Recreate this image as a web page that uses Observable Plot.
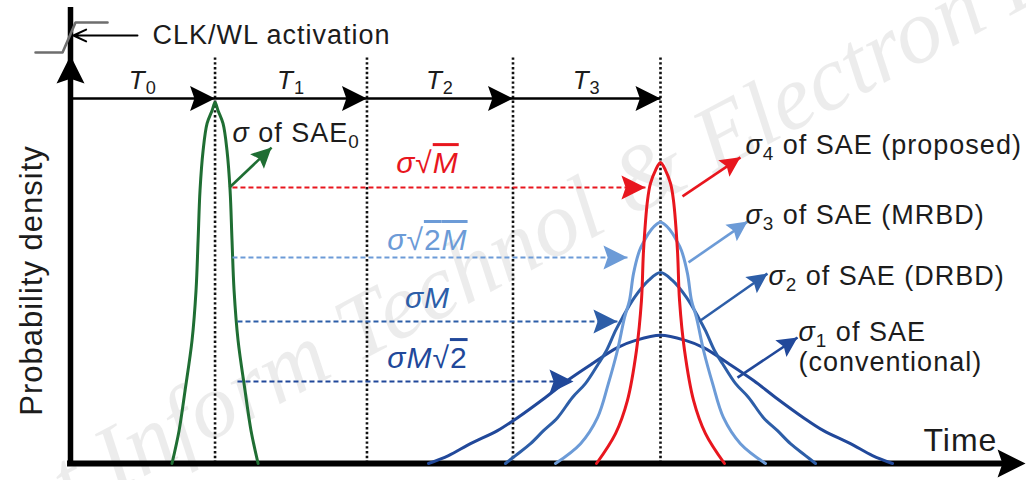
<!DOCTYPE html>
<html><head><meta charset="utf-8">
<script src="https://cdn.jsdelivr.net/npm/d3@7"></script>
<script src="https://cdn.jsdelivr.net/npm/@observablehq/plot@0.6"></script>
<style>
html,body{margin:0;padding:0;background:#fff;}
#chart svg{display:block;}
</style></head><body><div id="chart"></div>
<script>
// ---------- data (time units on x, probability density on y) ----------
const phaseBounds = [0, 0.98, 2.01, 3.0, 4.0];
const phaseLabels = ["*T*_0", "*T*_1", "*T*_2", "*T*_3"];
const phaseArrowLevel = 1.011;
const boundTop = 1.13;

// curve shapes: peak-to-base heights and matching half-widths
const sae0Center = 0.98;
const sae0H = [1.000, 0.978, 0.942, 0.867, 0.756, 0.618, 0.479, 0.341, 0.203, 0.091, 0];
const sae0W = [0, 0.020, 0.054, 0.081, 0.102, 0.115, 0.129, 0.156, 0.203, 0.244, 0.292];
const saeCenter = 4.0;
const sigma4H = [0.834, 0.812, 0.776, 0.729, 0.590, 0.452, 0.313, 0.175, 0.083, 0];
const sigma4W = [0, 0.034, 0.068, 0.088, 0.115, 0.129, 0.163, 0.224, 0.305, 0.434];
const sigma3H = [0.668, 0.645, 0.618, 0.590, 0.526, 0.452, 0.404, 0.313, 0.222, 0.127, 0.055, 0];
const sigma3W = [0, 0.068, 0.108, 0.142, 0.183, 0.210, 0.244, 0.292, 0.353, 0.427, 0.542, 0.712];
const sigma2H = [0.529, 0.507, 0.460, 0.404, 0.368, 0.313, 0.277, 0.222, 0.183, 0.127, 0.091, 0.055, 0.022, 0];
const sigma2W = [0, 0.081, 0.176, 0.258, 0.305, 0.366, 0.420, 0.508, 0.597, 0.698, 0.793, 0.881, 0.983, 1.051];
const sigma1H = [0.355, 0.341, 0.321, 0.277, 0.230, 0.183, 0.127, 0.091, 0.055, 0.022, 0];
const sigma1W = [0, 0.169, 0.292, 0.461, 0.631, 0.780, 0.969, 1.105, 1.288, 1.437, 1.573];

const green = "#1f6e33", red = "#e8161e", lightBlue = "#6c9bd7", midBlue = "#2d5ea8", darkBlue = "#21489a";

// dashed transfer arrows
const transferY = [0.7645, 0.5706, 0.3934, 0.2271];
const transferX1 = [1.098, 1.098, 1.132, 1.132];
const transferX2 = [3.898, 3.776, 3.708, 3.410];
const transferColors = [red, lightBlue, midBlue, darkBlue];
const transferLabels = ["*σ*√~*M*~", "*σ*√~2*M*~", "*σM*", "*σM*√~2~"];
const transferLabelX = 2.42;
const transferLabelY = [0.831, 0.618, 0.457, 0.291];

// pointer arrows to curve labels
const pointerX1 = [1.078, 4.149, 4.190, 4.271, 4.522];
const pointerY1 = [0.7645, 0.740, 0.557, 0.396, 0.238];
const pointerX2 = [1.363, 4.542, 4.590, 4.725, 4.929];
const pointerY2 = [0.875, 0.848, 0.670, 0.526, 0.349];
const pointerColors = [green, red, lightBlue, midBlue, darkBlue];

const curveLabels = ["*σ* of SAE_0", "*σ*_4 of SAE (proposed)", "*σ*_3 of SAE (MRBD)", "*σ*_2 of SAE (DRBD)", "*σ*_1 of SAE", "(conventional)"];
const curveLabelX = [1.098, 4.576, 4.576, 4.732, 4.936, 4.936];
const curveLabelY = [0.914, 0.881, 0.687, 0.518, 0.362, 0.280];

// CLK/WL activation marker
const clkT = [-0.237, -0.054, 0.034, 0.251];
const clkD = [1.1385, 1.1385, 1.2216, 1.2216];
const clkArrow = {x1: 0.454, x2: 0.020, y: 1.1856};
const clkText = "CLK/WL activation";
const watermark = "Front Inform Technol & Electron Eng";

const axisTop = 1.263, yArrowTip = 1.130, xArrowTip = 6.475;
const xDomain = [-0.4746, 6.4814], yDomain = [0, 1.2825];
const W = 1026, H = 480, MB = 17;

// ---------- build tables ----------
function curveRows(name, center, hs, ws) {
  const rows = [];
  for (let i = hs.length - 1; i >= 1; --i) rows.push({name, t: center - ws[i], d: hs[i]});
  rows.push({name, t: center, d: hs[0]});
  for (let i = 1; i < hs.length; ++i) rows.push({name, t: center + ws[i], d: hs[i]});
  return rows;
}
const curves = [
  ...curveRows("SAE0", sae0Center, sae0H, sae0W),
  ...curveRows("s1", saeCenter, sigma1H, sigma1W),
  ...curveRows("s2", saeCenter, sigma2H, sigma2W),
  ...curveRows("s3", saeCenter, sigma3H, sigma3W),
  ...curveRows("s4", saeCenter, sigma4H, sigma4W)
];
const curveColorMap = {SAE0: green, s1: darkBlue, s2: midBlue, s3: lightBlue, s4: red};

const kx = W / (xDomain[1] - xDomain[0]);
const ky = (H - MB) / (yDomain[1] - yDomain[0]);
const angleOf = (x1, y1, x2, y2) => Math.atan2((x2 - x1) * kx, (y2 - y1) * ky) * 180 / Math.PI;

const phaseSegs = phaseLabels.map((lab, i) => ({lab, x1: phaseBounds[i], x2: phaseBounds[i + 1], mid: (phaseBounds[i] + phaseBounds[i + 1]) / 2}));
const transfers = transferY.map((y, i) => ({y, x1: transferX1[i], x2: transferX2[i], c: transferColors[i], lab: transferLabels[i], ly: transferLabelY[i]}));
const pointers = pointerX1.map((x1, i) => ({x1, y1: pointerY1[i], x2: pointerX2[i], y2: pointerY2[i], c: pointerColors[i], a: angleOf(x1, pointerY1[i], pointerX2[i], pointerY2[i])}));
const labels = curveLabels.map((lab, i) => ({lab, x: curveLabelX[i], y: curveLabelY[i]}));
const clk = clkT.map((t, i) => ({t, d: clkD[i]}));

// stealth arrowhead with its tip at the origin, pointing up
const arrowHead = {
  draw(ctx, size) {
    const r = Math.sqrt(size / Math.PI);
    const L = 2 * r, hw = r, n = 1.65 * r;
    ctx.moveTo(0, 0); ctx.lineTo(hw, L); ctx.lineTo(0, n); ctx.lineTo(-hw, L); ctx.closePath();
  }
};

const ink = "#1c1c1c";
const chart = Plot.plot({
  width: W, height: H,
  marginTop: 0, marginRight: 0, marginBottom: MB, marginLeft: 0,
  x: {domain: xDomain, axis: null},
  y: {domain: yDomain, axis: null},
  style: {fontFamily: "'Liberation Sans', Arial, sans-serif", background: "#fff", overflow: "visible"},
  marks: [
    // watermark
    Plot.text([watermark], {x: 3.0, y: 0.60, text: (d) => d, rotate: -28, fontSize: 92, fontStyle: "italic", fontFamily: "'Liberation Serif', serif", fill: "#000", fillOpacity: 0.075}),
    // phase boundaries
    Plot.ruleX(phaseBounds.slice(1), {y1: 0, y2: boundTop, stroke: "#111", strokeWidth: 2.6, strokeDasharray: "2.4,2.4"}),
    // phase arrows
    Plot.link(phaseSegs, {x1: "x1", x2: "x2", y1: phaseArrowLevel, y2: phaseArrowLevel, stroke: "#000", strokeWidth: 2.6}),
    Plot.dot(phaseSegs, {x: "x2", y: phaseArrowLevel, symbol: arrowHead, r: 12.5, rotate: 90, fill: "#000", stroke: "none"}),
    Plot.text(phaseSegs, {x: "mid", y: 1.061, text: "lab", fontSize: 26, fill: ink}),
    // axes
    Plot.ruleX([0], {y1: -0.008, y2: axisTop, stroke: "#000", strokeWidth: 5.5}),
    Plot.dot([0], {x: 0, y: yArrowTip, symbol: arrowHead, r: 14, rotate: 0, fill: "#000", stroke: "none"}),
    Plot.ruleY([0], {x1: -0.02, x2: xArrowTip - 0.05, stroke: "#000", strokeWidth: 6}),
    Plot.dot([0], {x: xArrowTip, y: 0, symbol: arrowHead, r: 14, rotate: 90, fill: "#000", stroke: "none"}),
    // distributions
    Plot.line(curves, {x: "t", y: "d", z: "name", stroke: (d) => curveColorMap[d.name], strokeWidth: 3, curve: "catmull-rom"}),
    // dashed transfer arrows
    Plot.link(transfers, {x1: "x1", x2: "x2", y1: "y", y2: "y", stroke: "c", strokeWidth: 2.2, strokeDasharray: "5,3"}),
    Plot.dot(transfers, {x: "x2", y: "y", symbol: arrowHead, r: 12, rotate: 90, fill: "c", stroke: "none"}),
    Plot.text(transfers, {x: transferLabelX, y: "ly", text: "lab", fill: "c", fontSize: 30}),
    // pointers
    Plot.link(pointers, {x1: "x1", y1: "y1", x2: "x2", y2: "y2", stroke: "c", strokeWidth: 2.6}),
    Plot.dot(pointers, {x: "x2", y: "y2", symbol: arrowHead, r: 10, rotate: "a", fill: "c", stroke: "none"}),
    Plot.text(labels, {x: "x", y: "y", text: "lab", textAnchor: "start", fontSize: 27, fill: ink}),
    // CLK/WL marker
    Plot.line(clk, {x: "t", y: "d", stroke: "#6e6e6e", strokeWidth: 2.6}),
    Plot.arrow([clkArrow], {x1: "x1", x2: "x2", y1: "y", y2: "y", stroke: "#000", strokeWidth: 2, headLength: 10.5, headAngle: 50}),
    Plot.text([clkText], {x: 0.556, y: clkArrow.y, text: (d) => d, textAnchor: "start", fontSize: 27, fill: ink}),
    // axis titles
    Plot.text(["Probability density"], {x: -0.258, y: 0.507, text: (d) => d, rotate: -90, fontSize: 31, fill: ink}),
    Plot.text(["Time"], {x: 5.783, y: 0.064, text: (d) => d, textAnchor: "start", fontSize: 32, fill: ink})
  ]
});

// rich text: *italic*, _subscript char, ~overline~
function richify(svg) {
  const ns = "http://www.w3.org/2000/svg";
  for (const t of svg.querySelectorAll("text")) {
    const s = t.textContent;
    if (s === watermark) { t.style.letterSpacing = "0px"; continue; }
    if (!/[*_~]/.test(s)) continue;
    const segs = [];
    let it = false, ov = false;
    for (let i = 0; i < s.length; ++i) {
      const c = s[i];
      if (c === "*") { it = !it; continue; }
      if (c === "~") { ov = !ov; continue; }
      if (c === "_") { segs.push({c: s[++i], it: false, ov, sub: true}); continue; }
      segs.push({c, it, ov, sub: false});
    }
    const merged = [];
    for (const g of segs) {
      const last = merged[merged.length - 1];
      if (last && last.it === g.it && last.ov === g.ov && last.sub === g.sub) last.c += g.c;
      else merged.push({...g});
    }
    t.textContent = "";
    let prevSub = false;
    for (const g of merged) {
      const ts = document.createElementNS(ns, "tspan");
      ts.textContent = g.c;
      if (g.it) ts.setAttribute("font-style", "italic");
      if (g.ov) ts.setAttribute("text-decoration", "overline");
      if (g.sub) { ts.setAttribute("font-size", "0.7em"); ts.setAttribute("dy", "0.3em"); }
      else if (prevSub) ts.setAttribute("dy", "-0.21em");
      prevSub = g.sub;
      t.appendChild(ts);
    }
  }
}
chart.style.letterSpacing = "1px";
richify(chart);
document.getElementById("chart").appendChild(chart);
</script></body></html>
